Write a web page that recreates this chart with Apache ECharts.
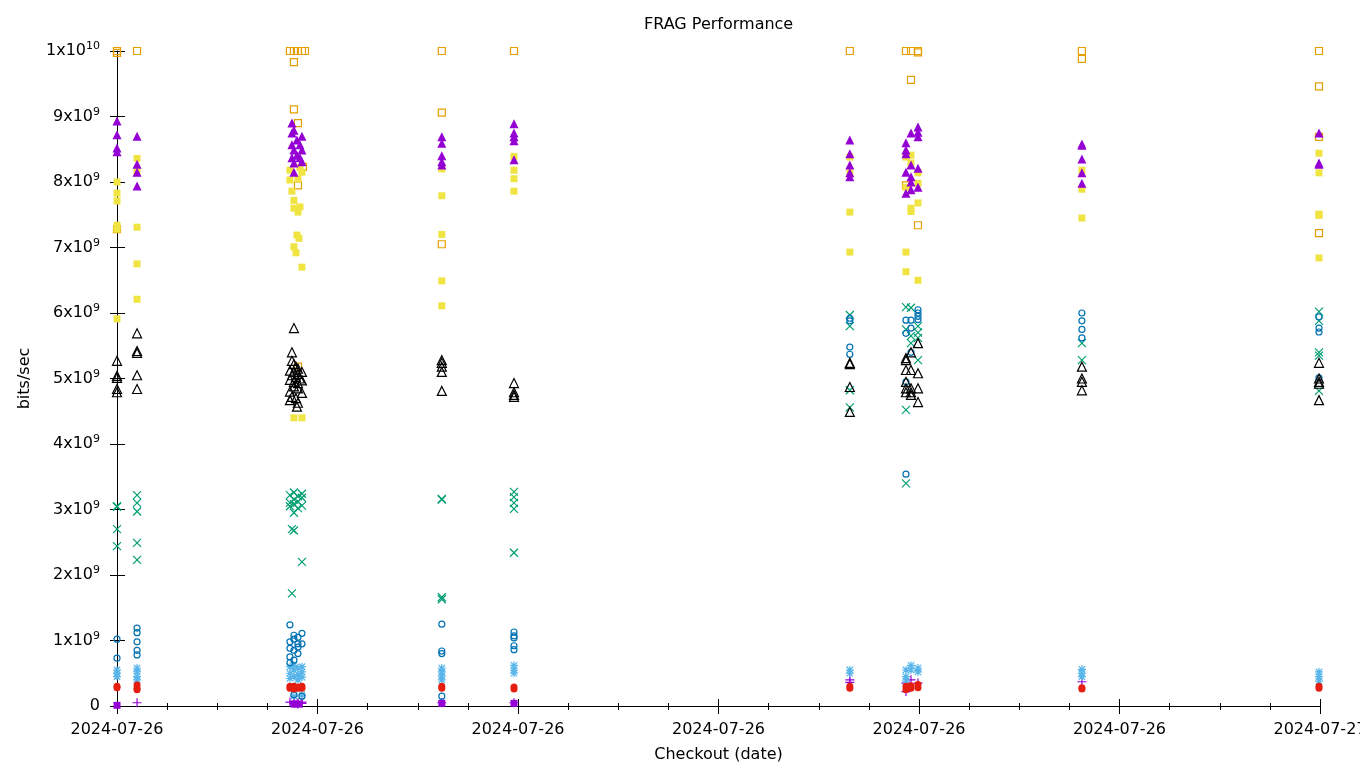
<!DOCTYPE html>
<html>
<head>
<meta charset="utf-8">
<script src="https://cdn.jsdelivr.net/npm/echarts@6/dist/echarts.min.js"></script>
<style>html,body{margin:0;padding:0;background:#fff;overflow:hidden}#c{width:1360px;height:768px}</style>
</head>
<body>
<div id="c"></div>
<script>
// x: hours after 2024-07-26 00:00, y: bits/sec in units of 1e9
const xTickLabels = ['2024-07-26','2024-07-26','2024-07-26','2024-07-26','2024-07-26','2024-07-26','2024-07-27'];

const purplePlus = [[0.40,0.05],[3.45,0.06],[3.53,0.04],[3.53,0.07],[3.61,0.05],[3.61,0.03],[3.69,0.06],[3.69,0.04],[6.48,0.05],[7.92,0.05],[14.62,0.40],[14.62,0.36],[15.74,0.22],[15.74,0.35],[15.84,0.40],[15.98,0.35],[19.25,0.37]];

const greenX = [[0,3.05],[0,3.04],[0,2.70],[0,2.44],
 [0.40,3.22],[0.40,3.10],[0.40,2.97],[0.40,2.49],[0.40,2.23],
 [3.45,3.10],[3.45,3.05],[3.45,3.22],[3.53,3.26],[3.53,3.15],[3.53,3.08],[3.53,2.95],[3.61,3.20],[3.61,3.12],[3.61,3.02],[3.69,3.18],[3.69,3.24],[3.69,3.06],[3.49,2.70],[3.53,2.68],[3.69,2.20],[3.49,1.72],
 [6.48,3.16],[6.48,3.15],[6.48,1.66],[6.48,1.63],
 [7.92,3.27],[7.92,3.19],[7.92,3.10],[7.92,3.01],[7.92,2.34],
 [14.62,5.97],[14.62,5.80],[14.62,4.82],[14.62,4.56],
 [15.74,6.09],[15.84,6.08],[15.74,5.75],[15.84,5.65],[15.98,5.80],[15.98,5.70],[15.98,5.62],[15.84,5.54],[15.98,5.28],[15.74,4.52],[15.74,3.40],
 [19.25,5.54],[19.25,5.28],
 [23.98,6.02],[23.98,5.88],[23.98,5.40],[23.98,5.35],[23.98,4.81]];

const lightBlueStar = [[0,0.55],[0,0.50],[0,0.45],
 [0.40,0.58],[0.40,0.52],[0.40,0.45],[0.40,0.40],
 [3.45,0.60],[3.45,0.50],[3.45,0.42],[3.53,0.62],[3.53,0.55],[3.53,0.45],[3.61,0.58],[3.61,0.48],[3.61,0.40],[3.69,0.60],[3.69,0.52],[3.69,0.44],[3.53,0.15],[3.69,0.17],
 [6.48,0.58],[6.48,0.52],[6.48,0.46],[6.48,0.40],
 [7.92,0.62],[7.92,0.55],[7.92,0.50],
 [14.62,0.55],[14.62,0.50],
 [15.74,0.55],[15.74,0.45],[15.84,0.62],[15.84,0.55],[15.98,0.58],[15.98,0.52],[15.74,0.38],
 [19.25,0.56],[19.25,0.50],[19.25,0.45],
 [23.98,0.52],[23.98,0.45],[23.98,0.38]];

const orangeSquare = [[0,10],[0,9.97],[0,7.28],[0.40,10],
 [3.45,10],[3.53,10],[3.61,10],[3.69,10],[3.75,10],[3.53,9.83],[3.53,9.11],[3.61,8.90],[3.71,8.23],[3.61,7.95],[3.61,5.18],
 [6.48,10],[6.48,9.06],[6.48,7.05],[7.92,10],
 [14.62,10],[15.74,10],[15.84,10],[15.98,10],[15.98,9.98],[15.84,9.56],[15.74,7.95],[15.98,7.34],
 [19.25,10],[19.25,9.88],
 [23.98,10],[23.98,9.46],[23.98,8.69],[23.98,7.22]];

const yellowSquare = [[0,8.0],[0,7.83],[0,7.71],[0,7.34],[0,7.28],[0,5.91],
 [0.40,8.36],[0.40,8.17],[0.40,7.31],[0.40,6.75],[0.40,6.21],
 [3.45,8.18],[3.45,8.03],[3.49,7.86],[3.53,7.72],[3.53,7.60],[3.61,7.54],[3.59,7.19],[3.63,7.14],[3.53,7.01],[3.57,6.92],[3.69,6.70],[3.69,8.15],[3.61,8.05],[3.65,7.62],[3.65,8.22],[3.53,4.40],[3.69,4.40],
 [6.48,8.20],[6.48,7.79],[6.48,7.20],[6.48,6.49],[6.48,6.11],
 [7.92,8.39],[7.92,8.18],[7.92,8.05],[7.92,7.86],
 [14.62,8.38],[14.62,8.14],[14.62,7.54],[14.62,6.93],
 [15.74,8.38],[15.74,7.92],[15.74,6.93],[15.74,6.63],[15.84,8.41],[15.84,8.29],[15.84,7.60],[15.84,7.55],[15.98,8.14],[15.98,7.98],[15.98,7.68],[15.98,6.50],
 [19.25,8.18],[19.25,7.89],[19.25,7.45],
 [23.98,8.44],[23.98,8.14],[23.98,7.51],[23.98,7.49],[23.98,6.84]];

const blueCircle = [[0,1.02],[0,0.73],
 [0.40,1.19],[0.40,1.12],[0.40,0.98],[0.40,0.85],[0.40,0.78],
 [3.45,1.24],[3.53,1.08],[3.53,1.02],[3.45,0.98],[3.61,1.05],[3.61,0.95],[3.45,0.88],[3.53,0.85],[3.61,0.80],[3.45,0.75],[3.53,0.70],[3.45,0.66],[3.69,1.11],[3.69,0.95],[3.61,0.90],[3.53,0.17],[3.69,0.15],
 [6.48,1.25],[6.48,0.84],[6.48,0.80],[6.48,0.15],
 [7.92,1.13],[7.92,1.07],[7.92,1.04],[7.92,0.92],[7.92,0.86],
 [14.62,5.92],[14.62,5.88],[14.62,5.48],[14.62,5.37],
 [15.74,5.89],[15.74,5.69],[15.74,4.95],[15.74,3.54],[15.84,5.89],[15.84,5.77],[15.84,5.40],[15.98,6.05],[15.98,6.00],[15.98,5.95],[15.98,5.90],
 [19.25,6.00],[19.25,5.88],[19.25,5.75],[19.25,5.62],
 [23.98,5.94],[23.98,5.77],[23.98,5.71],[23.98,5.01]];

const redCircle = [[0,0.30],[0,0.28],
 [0.40,0.32],[0.40,0.27],[0.40,0.25],
 [3.45,0.30],[3.45,0.27],[3.53,0.30],[3.53,0.26],[3.61,0.29],[3.61,0.27],[3.69,0.30],[3.69,0.27],[3.49,0.28],[3.57,0.28],[3.65,0.28],
 [6.48,0.30],[6.48,0.27],
 [7.92,0.29],[7.92,0.26],
 [14.62,0.30],[14.62,0.27],
 [15.74,0.30],[15.74,0.25],[15.78,0.28],[15.84,0.31],[15.84,0.27],[15.98,0.33],[15.98,0.28],
 [19.25,0.28],[19.25,0.26],
 [23.98,0.30],[23.98,0.27]];

const blackTriangle = [[0,5.27],[0,5.04],[0,5.01],[0,4.84],[0,4.79],
 [0.40,5.69],[0.40,5.42],[0.40,5.39],[0.40,5.05],[0.40,4.84],
 [3.53,5.77],[3.49,5.40],[3.49,5.27],[3.53,5.22],[3.57,5.18],[3.61,5.15],[3.45,5.12],[3.53,5.10],[3.61,5.07],[3.69,5.10],[3.49,5.05],[3.57,5.02],[3.65,5.00],[3.45,4.98],[3.53,4.95],[3.61,4.93],[3.69,4.97],[3.53,4.88],[3.61,4.85],[3.45,4.80],[3.69,4.78],[3.49,4.72],[3.45,4.67],[3.57,4.70],[3.61,4.63],[3.59,4.57],
 [6.48,5.28],[6.48,5.24],[6.48,5.18],[6.48,5.10],[6.48,4.81],
 [7.92,4.93],[7.92,4.79],[7.92,4.75],[7.92,4.72],
 [14.62,5.24],[14.62,5.22],[14.62,4.87],[14.62,4.49],
 [15.74,5.31],[15.74,5.28],[15.74,5.13],[15.74,4.95],[15.74,4.85],[15.74,4.79],[15.84,5.40],[15.84,5.13],[15.84,4.85],[15.84,4.79],[15.84,4.75],[15.98,5.54],[15.98,5.08],[15.98,4.85],[15.98,4.64],
 [19.25,5.18],[19.25,5.00],[19.25,4.95],[19.25,4.82],
 [23.98,5.24],[23.98,5.00],[23.98,4.95],[23.98,4.92],[23.98,4.67]];

const purpleTriangle = [[0,8.93],[0,8.72],[0,8.52],[0,8.46],
 [0.40,8.70],[0.40,8.27],[0.40,8.15],[0.40,7.94],
 [3.49,8.90],[3.53,8.79],[3.49,8.75],[3.69,8.70],[3.59,8.64],[3.49,8.57],[3.65,8.57],[3.53,8.49],[3.69,8.49],[3.59,8.41],[3.49,8.37],[3.65,8.37],[3.53,8.29],[3.69,8.31],[3.53,8.15],
 [6.48,8.69],[6.48,8.59],[6.48,8.40],[6.48,8.31],[6.48,8.26],
 [7.92,8.89],[7.92,8.75],[7.92,8.69],[7.92,8.63],[7.92,8.34],
 [14.62,8.64],[14.62,8.43],[14.62,8.26],[14.62,8.14],[14.62,8.08],
 [15.98,8.84],[15.98,8.76],[15.84,8.75],[15.98,8.69],[15.74,8.60],[15.74,8.49],[15.74,8.43],[15.84,8.26],[15.98,8.21],[15.74,8.15],[15.84,8.08],[15.84,8.00],[15.98,7.92],[15.84,7.88],[15.74,7.83],
 [19.25,8.58],[19.25,8.56],[19.25,8.35],[19.25,8.14],[19.25,7.98],
 [23.98,8.75],[23.98,8.29],[23.98,8.27]];

const purpleSquare = [[0,0.01],[3.53,0.03],[3.61,0.03],[6.48,0.04],[7.92,0.04]];

const FONT = 'DejaVu Sans';
const PLUS = 'path://M0,5L10,5M5,0L5,10';
const CROSS = 'path://M0,0L10,10M10,0L0,10';
const STAR = 'path://M0,5L10,5M5,0L5,10M1,1L9,9M9,1L1,9';

function stroke(name, data, symbol, size, color) {
  return {type:'scatter', name, data, symbol, symbolSize:size, clip:false, silent:true,
    itemStyle:{color:'transparent', borderColor:color, borderWidth:1.2, opacity:1}};
}
function fill(name, data, symbol, size, color) {
  return {type:'scatter', name, data, symbol, symbolSize:size, clip:false, silent:true,
    itemStyle:{color:color, borderWidth:0, opacity:1}};
}

const chart = echarts.init(document.getElementById('c'), null, {renderer:'canvas', width:1360, height:768});
chart.setOption({
  animation:false,
  backgroundColor:'#fff',
  textStyle:{fontFamily:FONT, color:'#000'},
  title:{text:'FRAG Performance', left:639, top:12,
    textStyle:{fontFamily:FONT, fontSize:16, fontWeight:'normal', color:'#000'}},
  grid:{left:117, top:51, width:1203, height:655, containLabel:false, outerBoundsMode:'none'},
  xAxis:[{
    type:'value', min:0, max:24, interval:4, position:'bottom',
    name:'Checkout (date)', nameLocation:'middle', nameGap:41,
    nameTextStyle:{fontFamily:FONT, fontSize:16, color:'#000'},
    axisLine:{show:true, onZero:false, lineStyle:{color:'#000', width:1}},
    axisTick:{show:true, inside:false, length:8, lineStyle:{color:'#000'}},
    minorTick:{show:true, splitNumber:4, length:4, lineStyle:{color:'#000'}},
    splitLine:{show:false},
    axisLabel:{show:true, margin:16, fontFamily:FONT, fontSize:16, color:'#000', showMaxLabel:true, showMinLabel:true, hideOverlap:false,
      formatter:(v)=>xTickLabels[Math.round(v/4)]}
  },{
    type:'value', min:0, max:24, interval:4, position:'top',
    axisLine:{show:false},
    axisTick:{show:true, inside:false, length:7, lineStyle:{color:'#000'}},
    minorTick:{show:true, splitNumber:4, length:3, lineStyle:{color:'#000'}},
    splitLine:{show:false}, axisLabel:{show:false}
  }],
  yAxis:[{
    type:'value', min:0, max:10, interval:1, position:'left',
    name:'bits/sec', nameLocation:'middle', nameGap:84, nameRotate:90,
    nameTextStyle:{fontFamily:FONT, fontSize:16, color:'#000'},
    axisLine:{show:true, onZero:false, lineStyle:{color:'#000', width:1}},
    axisTick:{show:true, inside:false, length:7, lineStyle:{color:'#000'}},
    splitLine:{show:false},
    axisLabel:{show:true, margin:17, fontFamily:FONT, fontSize:16, color:'#000',
      formatter:(v)=>{
        if (v===0) return '{b|0}';
        if (v===10) return '{b|1x10}{s|10}';
        return '{b|'+v+'x10}{s|9}';
      },
      rich:{
        b:{fontFamily:FONT, fontSize:16, color:'#000'},
        s:{fontFamily:FONT, fontSize:11, color:'#000', verticalAlign:'top', padding:[0,0,9,0]}
      }}
  },{
    type:'value', min:0, max:10, interval:1, position:'right',
    axisLine:{show:false},
    axisTick:{show:true, inside:false, length:8, lineStyle:{color:'#000'}},
    splitLine:{show:false}, axisLabel:{show:false}
  }],
  series:[
    stroke('purple +', purplePlus, PLUS, 9, '#9400d3'),
    stroke('green x', greenX, CROSS, 8, '#009e73'),
    stroke('lightblue *', lightBlueStar, STAR, 8, '#56b4e9'),
    stroke('orange sq', orangeSquare, 'rect', 7, '#e69f00'),
    fill('yellow sq', yellowSquare, 'rect', 7, '#f0e442'),
    stroke('blue circle', blueCircle, 'circle', 6, '#0072b2'),
    fill('red circle', redCircle, 'circle', 7, '#e51e10'),
    stroke('black tri', blackTriangle, 'triangle', 9, '#000000'),
    fill('purple tri', purpleTriangle, 'triangle', 9, '#9400d3'),
    fill('purple sq', purpleSquare, 'rect', 7, '#9400d3')
  ]
});
</script>
</body>
</html>
